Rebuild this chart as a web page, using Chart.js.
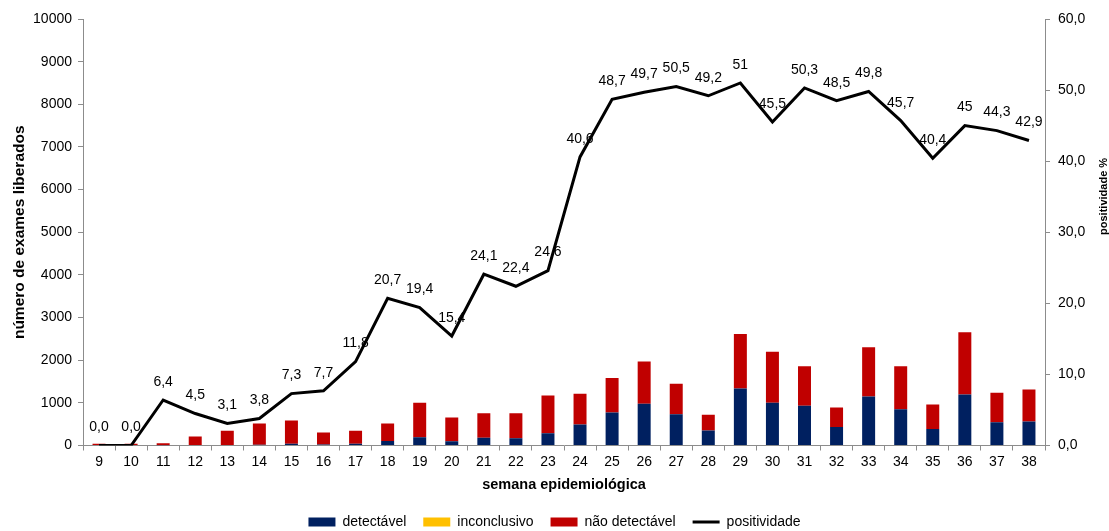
<!DOCTYPE html>
<html lang="pt-BR">
<head>
<meta charset="utf-8">
<title>Exames liberados por semana epidemiológica</title>
<script src="https://cdn.jsdelivr.net/npm/chart.js@4.4.1/dist/chart.umd.min.js"></script>
<style>
  html, body { margin: 0; padding: 0; background: #ffffff; }
  #wrap { width: 1109px; height: 531px; }
</style>
</head>
<body>
<div id="wrap"><canvas id="chart" width="1109" height="531"></canvas></div>
<script>
// semanas epidemiológicas
const semanas = [9, 10, 11, 12, 13, 14, 15, 16, 17, 18, 19, 20, 21, 22, 23, 24, 25, 26, 27, 28, 29, 30, 31, 32, 33, 34, 35, 36, 37, 38];

// exames liberados por resultado
const detectavel = [0, 0, 3, 9, 11, 20, 43, 23, 41, 107, 194, 101, 182, 170, 288, 492, 772, 978, 730, 354, 1334, 1001, 934, 432, 1146, 849, 388, 1194, 547, 562];
const inconclusivo = [0, 0, 0, 0, 0, 0, 0, 0, 0, 0, 0, 0, 0, 0, 0, 0, 0, 0, 0, 0, 0, 0, 0, 0, 0, 0, 0, 0, 0, 0];
const naoDetectavel = [40, 40, 47, 201, 334, 495, 542, 282, 304, 408, 806, 555, 575, 587, 883, 719, 813, 989, 715, 365, 1282, 1200, 923, 458, 1156, 1008, 572, 1459, 687, 749];

// positividade (%)
const positividade = [0.0, 0.0, 6.4, 4.5, 3.1, 3.8, 7.3, 7.7, 11.8, 20.7, 19.4, 15.4, 24.1, 22.4, 24.6, 40.6, 48.7, 49.7, 50.5, 49.2, 51, 45.5, 50.3, 48.5, 49.8, 45.7, 40.4, 45, 44.3, 42.9];

// eixos
const exameTicks = { min: 0, max: 10000, step: 1000 };
const positividadeTicks = { min: 0, max: 60, step: 10 };

const FONT = '"Liberation Sans", Arial, Helvetica, sans-serif';
const AXIS_GRAY = '#8c8c8c';

function formatPct(v) {
  return v === 0 ? '0,0' : String(v).replace('.', ',');
}

// rótulos de valor acima da linha de positividade
const rotulosLinha = {
  id: 'rotulosLinha',
  afterDatasetsDraw(chart) {
    const idx = chart.data.datasets.findIndex(d => d.type === 'line');
    const meta = chart.getDatasetMeta(idx);
    const ctx = chart.ctx;
    ctx.save();
    ctx.font = '14px ' + FONT;
    ctx.fillStyle = '#000000';
    ctx.textAlign = 'center';
    ctx.textBaseline = 'middle';
    meta.data.forEach((pt, i) => {
      ctx.fillText(formatPct(chart.data.datasets[idx].data[i]), pt.x, pt.y - 18);
    });
    ctx.restore();
  }
};

// título do eixo secundário, lido de baixo para cima
const tituloDireito = {
  id: 'tituloDireito',
  afterDraw(chart) {
    const ctx = chart.ctx;
    const area = chart.chartArea;
    ctx.save();
    ctx.translate(1103.5, area.top + (area.bottom - area.top) * 0.416);
    ctx.rotate(-Math.PI / 2);
    ctx.font = 'bold 11px ' + FONT;
    ctx.fillStyle = '#000000';
    ctx.textAlign = 'center';
    ctx.textBaseline = 'middle';
    ctx.fillText('positividade %', 0, 0);
    ctx.restore();
  }
};

const barra = { barPercentage: 0.405, categoryPercentage: 1.0, borderWidth: 0, pointStyle: 'rect', order: 1, yAxisID: 'y' };

new Chart(document.getElementById('chart'), {
  data: {
    labels: semanas,
    datasets: [
      Object.assign({ type: 'bar', label: 'detectável', data: detectavel, backgroundColor: '#002060' }, barra),
      Object.assign({ type: 'bar', label: 'inconclusivo', data: inconclusivo, backgroundColor: '#FFC000' }, barra),
      Object.assign({ type: 'bar', label: 'não detectável', data: naoDetectavel, backgroundColor: '#C00000' }, barra),
      {
        type: 'line', label: 'positividade', data: positividade, yAxisID: 'y1',
        borderColor: '#000000', backgroundColor: '#000000', borderWidth: 3,
        pointRadius: 0, pointHoverRadius: 0, pointStyle: 'line', tension: 0, order: 0,
        borderJoinStyle: 'miter'
      }
    ]
  },
  options: {
    responsive: false,
    devicePixelRatio: 1,
    animation: false,
    events: [],
    layout: { padding: { top: 19, left: 0, right: 0, bottom: -8 } },
    plugins: {
      tooltip: { enabled: false },
      legend: {
        position: 'bottom',
        labels: {
          usePointStyle: true,
          pointStyleWidth: 27,
          boxHeight: 9,
          padding: 17,
          color: '#000000',
          font: { family: FONT, size: 14 },
          sort: (a, b) => a.datasetIndex - b.datasetIndex
        }
      }
    },
    scales: {
      x: {
        stacked: true,
        offset: true,
        grid: { display: true, drawOnChartArea: false, drawTicks: true, tickLength: 5, color: AXIS_GRAY, offset: true },
        border: { display: true, color: AXIS_GRAY, width: 1 },
        ticks: { color: '#000000', font: { family: FONT, size: 14 }, padding: 3, maxRotation: 0, autoSkip: false },
        title: {
          display: true, text: 'semana epidemiológica', color: '#000000',
          font: { family: FONT, size: 14.5, weight: 'bold' }, padding: { top: 0, bottom: 4.6 }
        },
        afterFit(scale) { scale.height = 52.5; }
      },
      y: {
        stacked: true,
        position: 'left',
        min: exameTicks.min, max: exameTicks.max,
        grid: { display: true, drawOnChartArea: false, drawTicks: true, tickLength: 5, color: AXIS_GRAY },
        border: { display: true, color: AXIS_GRAY, width: 1 },
        ticks: { stepSize: exameTicks.step, color: '#000000', font: { family: FONT, size: 14 }, padding: 6, callback: v => String(v) },
        title: {
          display: true, text: 'número de exames liberados', color: '#000000',
          font: { family: FONT, size: 15.5, weight: 'bold' }, padding: { top: 10.2, bottom: 0 }
        },
        afterFit(scale) { scale.width = 83; }
      },
      y1: {
        position: 'right',
        min: positividadeTicks.min, max: positividadeTicks.max,
        grid: { display: true, drawOnChartArea: false, drawTicks: true, tickLength: 5, color: AXIS_GRAY },
        border: { display: true, color: AXIS_GRAY, width: 1 },
        ticks: { stepSize: positividadeTicks.step, color: '#000000', font: { family: FONT, size: 14 }, padding: 8, callback: v => v.toFixed(1).replace('.', ',') },
        afterFit(scale) { scale.width = 64; }
      }
    }
  },
  plugins: [rotulosLinha, tituloDireito]
});
</script>
</body>
</html>
